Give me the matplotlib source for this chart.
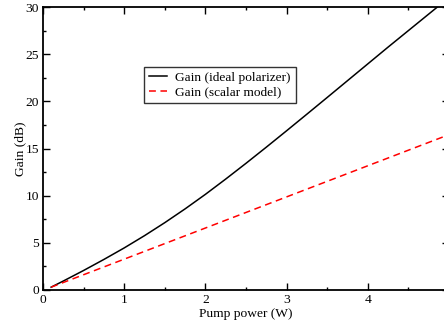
import matplotlib
matplotlib.use("Agg")
import matplotlib.pyplot as plt
from matplotlib.ticker import MultipleLocator, FixedLocator, FixedFormatter

plt.rcParams["font.family"] = ["Liberation Serif", "DejaVu Serif"]

# pump power (W) and gains (dB)
pump_ideal = [0.1, 0.25, 0.5, 0.75, 1.0, 1.25, 1.5, 1.75, 2.0, 2.25, 2.5, 2.75,
              3.0, 3.25, 3.5, 3.75, 4.0, 4.25, 4.5, 4.75, 5.0]
gain_ideal = [0.3, 0.95, 2.07, 3.24, 4.46, 5.76, 7.14, 8.6, 10.14, 11.76, 13.43, 15.14,
              16.88, 18.64, 20.41, 22.19, 23.97, 25.75, 27.5, 29.25, 31.0]
pump_scalar = [0.1, 1.0, 2.0, 3.0, 4.0, 5.0]
gain_scalar = [0.3, 3.27, 6.57, 9.87, 13.17, 16.47]
x_ticks = [0, 1, 2, 3, 4, 5]
x_labels = ["0", "1", "2", "3", "4", ""]

fig = plt.figure(figsize=(4.44, 3.23), dpi=100)
ax = fig.add_axes([43 / 444, 33 / 323, 406 / 444, 283 / 323])

ax.plot(pump_ideal, gain_ideal, color="black", lw=1.1, label="Gain (ideal polarizer)")
ax.plot(pump_scalar, gain_scalar, color="red", lw=1.1, dashes=(4.5, 3),
        label="Gain (scalar model)")

ax.set_xlim(0, 5)
ax.set_ylim(0, 30)
ax.xaxis.set_major_locator(FixedLocator(x_ticks))
ax.xaxis.set_major_formatter(FixedFormatter(x_labels))
ax.xaxis.set_minor_locator(MultipleLocator(0.5))
ax.yaxis.set_major_locator(MultipleLocator(5))
ax.yaxis.set_minor_locator(MultipleLocator(2.5))
ax.tick_params(which="both", direction="in", top=True, right=True, labelsize=9.7, width=1)
ax.tick_params(which="major", length=5, pad=3)
ax.tick_params(which="minor", length=2.5)
for s in ax.spines.values():
    s.set_linewidth(1.3)

ax.set_xlabel("Pump power (W)", fontsize=9.7, labelpad=1)
ax.set_ylabel("Gain (dB)", fontsize=9.7, labelpad=-1)

leg = ax.legend(loc="lower left", bbox_to_anchor=(0.249, 0.661), fontsize=9.6,
                frameon=True, fancybox=False, handlelength=1.4, handletextpad=0.6,
                borderpad=0.35, labelspacing=0.15, borderaxespad=0)
leg.get_frame().set_edgecolor("black")
leg.get_frame().set_linewidth(1.0)

fig.savefig("out.png", dpi=100)
